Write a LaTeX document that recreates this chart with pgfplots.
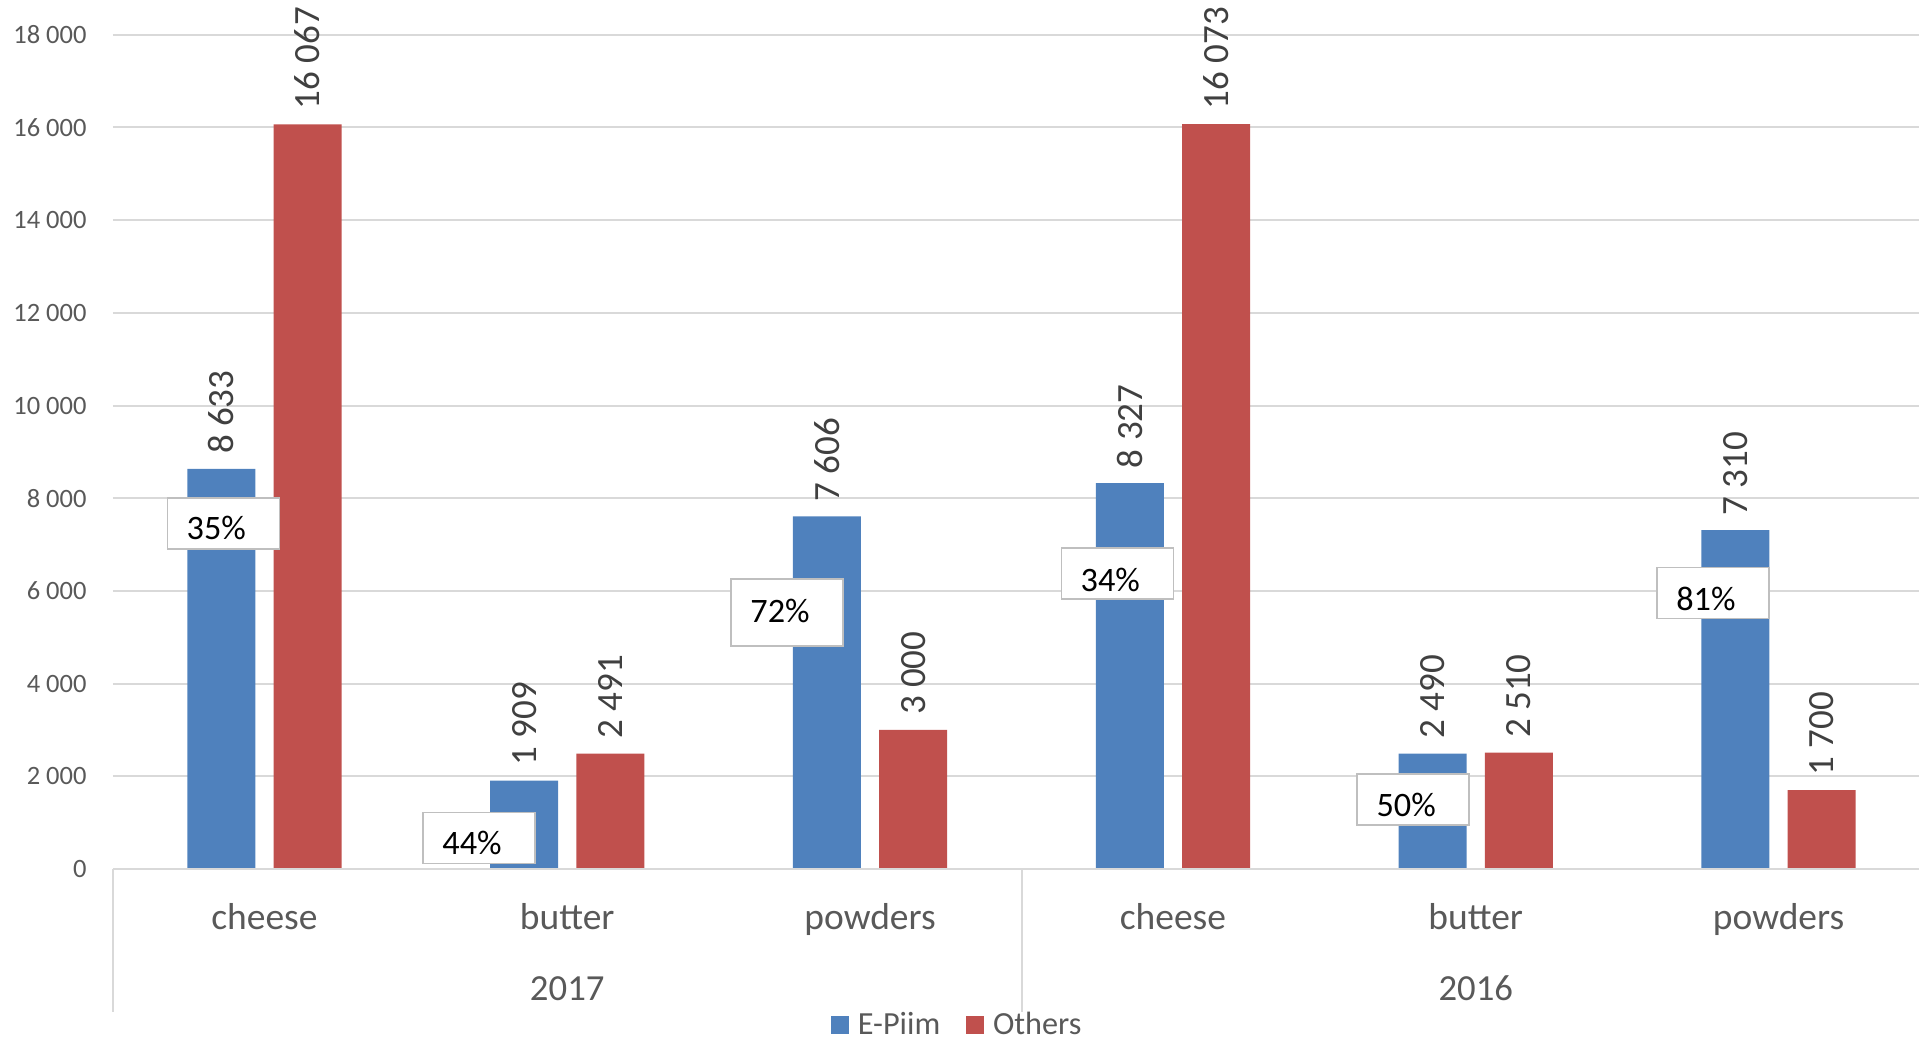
\documentclass[border=0pt]{standalone}
\usepackage{pgfplots}
\pgfplotsset{compat=1.18}
\usepackage{fontspec}
\setmainfont{Carlito}
\definecolor{epiim}{HTML}{4F81BD}
\definecolor{others}{HTML}{C0504D}
\definecolor{gridc}{HTML}{D9D9D9}
\definecolor{tickc}{HTML}{595959}
\definecolor{valc}{HTML}{404040}
\definecolor{boxc}{HTML}{BFBFBF}
\newcommand{\pbox}[5]{%
  \node[draw=boxc, line width=0.6pt, fill=white, minimum width=44.8pt, minimum height=#4, inner sep=0pt] at (axis cs:#1,#2) {};
  \node[font=\fontsize{13.7}{16}\selectfont, text=black, inner sep=0pt, xshift=-2.8pt, yshift=#5] at (axis cs:#1,#2) {#3};
}
\begin{document}
\begin{tikzpicture}
\path[use as bounding box] (-45.2pt,-69.6pt) rectangle (722.4pt,347.6pt);
\begin{axis}[
  anchor=south west, at={(0pt,0pt)},
  scale only axis, width=726.8pt, height=333.7pt,
  xmin=-0.5, xmax=5.5, ymin=0, ymax=18000,
  clip=false,
  ybar, bar width=0.2246,
  xtick={0,1,2,3,4,5},
  xticklabels={cheese,butter,powders,cheese,butter,powders},
  ytick={0,2000,4000,6000,8000,10000,12000,14000,16000,18000},
  scaled y ticks=false,
  major tick length=0pt,
  axis line style={draw=none},
  ymajorgrids, grid style={gridc, line width=0.8pt},
  /pgf/number format/1000 sep={\ },
  /pgf/number format/assume math mode=true,
  xticklabel style={font=\fontsize{15}{18}\selectfont, text=tickc, anchor=base, inner sep=0pt, yshift=-24pt},
  yticklabel style={font=\fontsize{10.6}{12}\selectfont, text=tickc, anchor=east, inner sep=0pt, xshift=-10.4pt},
  nodes near coords,
  nodes near coords style={font=\fontsize{14.8}{17}\selectfont, text=valc, rotate=90, anchor=west, inner xsep=5.8pt, inner ysep=0pt},
  legend style={at={(0.4655,-0.1875)}, anchor=center, draw=none, fill=none, legend columns=2,
    font=\fontsize{12.9}{15}\selectfont, text=tickc, inner sep=0pt,
    nodes={inner ysep=0.5pt},
    /tikz/every odd column/.append style={column sep=1.5pt},
    /tikz/every even column/.append style={column sep=8.4pt}},
  legend image code/.code={\fill[#1, draw=none] (0pt,-3.6pt) rectangle (7.2pt,3.6pt);},
]
\addplot[fill=epiim, draw=none, bar shift=-0.1424] coordinates {(0,8633) (1,1909) (2,7606) (3,8327) (4,2490) (5,7310)};
\addplot[fill=others, draw=none, bar shift=0.1424] coordinates {(0,16067) (1,2491) (2,3000) (3,16073) (4,2510) (5,1700)};
\legend{E-Piim, Others}
\draw[gridc, line width=0.8pt] (axis cs:-0.5,0) -- ++(0pt,-57pt);
\draw[gridc, line width=0.8pt] (axis cs:2.5,0) -- ++(0pt,-57pt);
\draw[gridc, line width=0.8pt] (axis cs:-0.5,0) -- (axis cs:5.5,0);
\node[font=\fontsize{14.7}{17}\selectfont, text=tickc, anchor=base, inner sep=0pt, yshift=-52.4pt] at (axis cs:1,0) {2017};
\node[font=\fontsize{14.7}{17}\selectfont, text=tickc, anchor=base, inner sep=0pt, yshift=-52.4pt] at (axis cs:4,0) {2016};
\pbox{-0.1357}{7458}{35\%}{20.4pt}{-2pt}
\pbox{0.7087}{669}{44\%}{20.4pt}{-2pt}
\pbox{1.7259}{5530}{72\%}{26.8pt}{0.7pt}
\pbox{2.8164}{6371}{34\%}{20.4pt}{-2.4pt}
\pbox{3.7933}{1499}{50\%}{20.4pt}{-2.2pt}
\pbox{4.783}{5959}{81\%}{20.4pt}{-2.4pt}
\end{axis}
\end{tikzpicture}
\end{document}
